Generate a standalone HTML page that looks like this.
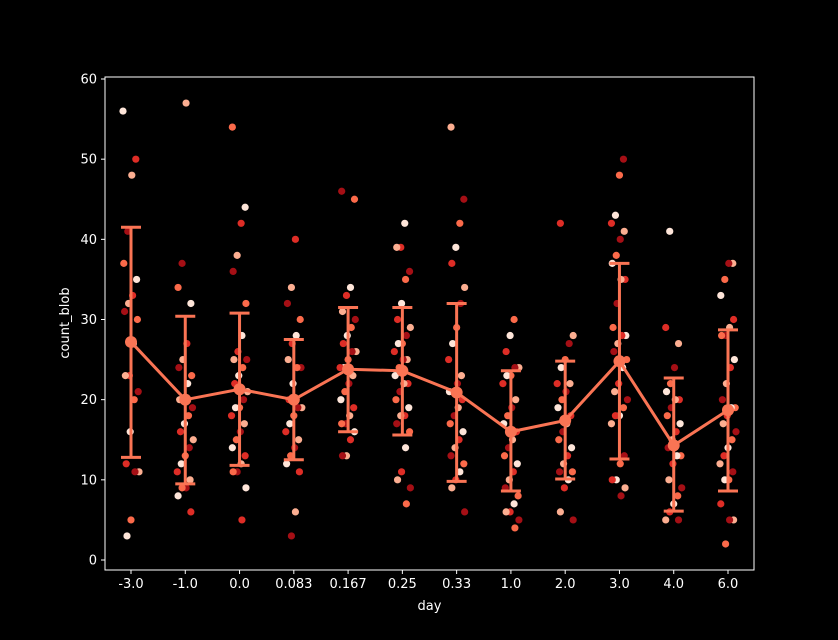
<!DOCTYPE html>
<html><head><meta charset="utf-8"><style>
html,body{margin:0;padding:0;background:#000;}
svg{display:block;font-family:"DejaVu Sans","Liberation Sans",sans-serif;}
</style></head><body>
<svg id="chart" width="838" height="640" xmlns="http://www.w3.org/2000/svg">
<rect x="0" y="0" width="838" height="640" fill="#000"/>
<g id="plot"></g>
</svg>
<script>
const categories=["-3.0","-1.0","0.0","0.083","0.167","0.25","0.33","1.0","2.0","3.0","4.0","6.0"];
const means=[27.2,20,21.3,20,23.8,23.6,20.9,16,17.4,24.8,14.3,18.7];
const ciLow=[12.8,9.5,11.8,12.5,16,15.6,9.8,8.6,10.1,12.6,6.1,8.6];
const ciHigh=[41.5,30.4,30.8,27.5,31.5,31.5,32,23.6,24.8,37,22.7,28.7];
const yTicks=[0,10,20,30,40,50,60];
const obs=[
[56,50,48,41,37,35,33,32,31,30,27,23,23,21,20,16,12,11,11,5,3],
[57,37,34,32,27,25,24,23,22,20,20,19,18,17,16,15,14,13,12,11,10,9,9,8,6],
[54,44,42,38,36,32,28,26,25,25,24,23,22,21,20,19,19,18,17,16,15,14,13,12,11,11,9,5],
[40,34,32,30,28,27,25,24,24,22,20,19,19,18,17,16,15,14,13,12,11,6,3],
[46,45,34,33,31,30,29,28,27,26,26,25,24,24,23,22,21,20,19,18,17,17,16,15,13,13],
[42,39,39,36,35,32,30,29,28,27,27,26,25,25,24,23,22,22,21,20,19,18,18,17,16,14,11,10,9,7],
[54,45,42,39,37,34,32,29,27,25,23,22,21,21,20,19,18,17,16,15,14,13,12,11,10,9,6],
[30,28,26,24,24,23,23,22,20,19,18,17,16,15,14,13,12,11,10,9,8,7,6,6,5,4],
[42,28,27,25,24,22,22,21,20,19,18,17,16,15,14,13,12,11,11,10,9,6,5],
[50,48,43,42,41,40,38,37,35,35,32,29,28,28,27,26,25,24,22,21,20,19,18,18,17,13,12,10,10,9,8],
[41,29,27,24,22,21,20,20,19,18,17,16,15,14,13,13,12,10,9,8,7,6,5,5],
[37,37,35,33,30,29,28,28,25,24,22,20,19,19,18,17,16,15,14,13,12,11,10,10,7,5,5,2]
];
const palette=["#fee5d9","#fcae91","#fb6a4a","#de2d26","#a50f15"];
const NS="http://www.w3.org/2000/svg";
const L=105,R=754,T=77,B=570;
const x=i=>131+i*(728-131)/11;
const y=v=>560-v*(560-79)/60;
const g=document.getElementById('plot');
function mk(tag,at){const e=document.createElementNS(NS,tag);for(const k in at)e.setAttribute(k,at[k]);g.appendChild(e);return e;}
obs.forEach((vals,ci)=>{vals.forEach((v,j)=>{
 const jit=((j*37+ci*11)%21-10)*0.8;
 const c=mk('circle',{cx:x(ci)+jit,cy:y(v),r:3.6,fill:palette[(j*3+ci)%5]});
 
 
});});
const col="#fa7454";
categories.forEach((c,i)=>{
 const e=mk('line',{x1:x(i),x2:x(i),y1:y(ciLow[i]),y2:y(ciHigh[i]),stroke:col,'stroke-width':3});
 
 
 [ciLow[i],ciHigh[i]].forEach(v=>{
  const cap=mk('line',{x1:x(i)-10,x2:x(i)+10,y1:y(v),y2:y(v),stroke:col,'stroke-width':3});
  
  
 });
});
const pl=mk('polyline',{points:means.map((m,i)=>x(i)+','+y(m)).join(' '),fill:'none',stroke:col,'stroke-width':3});


means.forEach((m,i)=>{
 const p=mk('circle',{cx:x(i),cy:y(m),r:6,fill:col});
 
 
});
const fr=mk('rect',{x:L,y:T,width:R-L,height:B-T,fill:'none',stroke:'#fff','stroke-width':1});


yTicks.forEach(v=>{
 const t=mk('line',{x1:L-4,x2:L,y1:y(v),y2:y(v),stroke:'#fff'});
 
 
 const tx=mk('text',{x:L-8,y:y(v)+4.5,'text-anchor':'end',fill:'#fff','font-size':13});
 tx.textContent=v;
 
 
});
categories.forEach((c,i)=>{
 const t=mk('line',{x1:x(i),x2:x(i),y1:B,y2:B+4,stroke:'#fff'});
 
 
 const tx=mk('text',{x:x(i),y:B+18,'text-anchor':'middle',fill:'#fff','font-size':13});
 tx.textContent=c;
 
 
});
const xl=mk('text',{x:(L+R)/2,y:610,'text-anchor':'middle',fill:'#fff','font-size':13});
xl.textContent='day';


const yl=mk('text',{x:0,y:0,'text-anchor':'middle',fill:'#fff','font-size':13,transform:'translate(69,323) rotate(-90)'});
yl.textContent='count_blob';


</script>
</body></html>
